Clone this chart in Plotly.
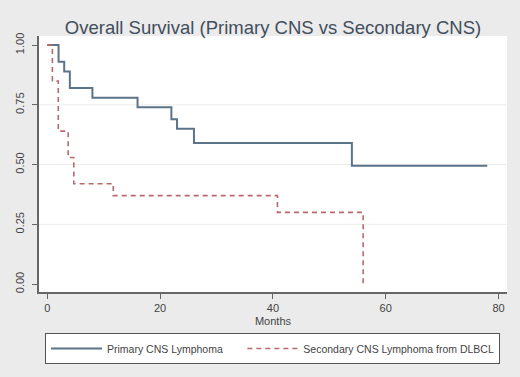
import plotly.graph_objects as go

# Kaplan-Meier estimates
primary_months = [0, 2, 3, 4, 8, 16, 22, 23, 26, 54, 78]
primary_surv = [1.0, 0.93, 0.89, 0.82, 0.78, 0.74, 0.69, 0.65, 0.59, 0.495, 0.495]

secondary_months = [0, 0.9, 1.95, 3.7, 4.7, 11.7, 40.8, 56]
secondary_surv = [1.0, 0.85, 0.64, 0.53, 0.42, 0.37, 0.30, 0.0]

y_ticks = [0.0, 0.25, 0.5, 0.75, 1.0]
y_tick_labels = ["0.00", "0.25", "0.50", "0.75", "1.00"]
x_ticks = [0, 20, 40, 60, 80]
x_tick_labels = ["0", "20", "40", "60", "80"]
grid_values = [0.25, 0.5, 0.75]

series_names = ["Primary CNS Lymphoma", "Secondary CNS Lymphoma from DLBCL"]
legend_pad = "\u00a0" * 5

fig = go.Figure()
fig.add_trace(go.Scatter(
    x=primary_months, y=primary_surv, mode="lines", line_shape="hv",
    name=series_names[0] + legend_pad,
    line=dict(color="#5b7489", width=2),
))
fig.add_trace(go.Scatter(
    x=secondary_months, y=secondary_surv, mode="lines", line_shape="hv",
    name=series_names[1],
    line=dict(color="#b86a6a", width=1.6, dash="5px,4px"),
))

for g in grid_values:
    fig.add_shape(type="line", xref="paper", x0=0, x1=1, yref="y", y0=g, y1=g,
                  line=dict(color="#ececec", width=1), layer="below")

fig.update_layout(
    width=520, height=377,
    margin=dict(l=39, r=13, t=36, b=85, autoexpand=False),
    paper_bgcolor="#ebebeb",
    plot_bgcolor="#ffffff",
    font=dict(family="Liberation Sans, Arial, sans-serif", color="#333333"),
    title=dict(
        text="Overall Survival (Primary CNS vs Secondary CNS)",
        x=0.5, xref="paper", xanchor="center",
        y=1 - 28 / 377, yanchor="middle",
        font=dict(size=18.5, color="#414e5c"),
    ),
    showlegend=True,
    legend=dict(
        orientation="h",
        x=0.499, xanchor="center", xref="paper",
        y=-0.16, yanchor="top", yref="paper",
        bgcolor="#ffffff", bordercolor="#555555", borderwidth=1,
        font=dict(size=10.5, color="#444444"),
        itemwidth=51,
        tracegroupgap=0,
    ),
)

fig.update_xaxes(
    range=[-1.47, 81.5],
    tickmode="array", tickvals=x_ticks, ticktext=x_tick_labels,
    ticks="outside", ticklen=5, tickcolor="#666666",
    showline=True, linecolor="#666666", linewidth=1.5,
    showgrid=False, zeroline=False,
    tickangle=0,
    tickfont=dict(size=11, color="#444444"),
    title=dict(text="Months", font=dict(size=11, color="#444444"), standoff=4),
)
fig.update_yaxes(
    range=[-0.033, 1.038],
    tickmode="array", tickvals=y_ticks, ticktext=y_tick_labels, tickangle=-90,
    ticks="outside", ticklen=5, tickcolor="#666666",
    showline=True, linecolor="#666666", linewidth=1.5,
    showgrid=False, zeroline=False,
    ticklabelstandoff=4,
    tickfont=dict(size=11, color="#444444"),
)

fig.write_html(
    "out.html",
    config={"displayModeBar": False},
    post_script="document.body.style.margin='0';document.body.style.overflow='hidden';",
)
